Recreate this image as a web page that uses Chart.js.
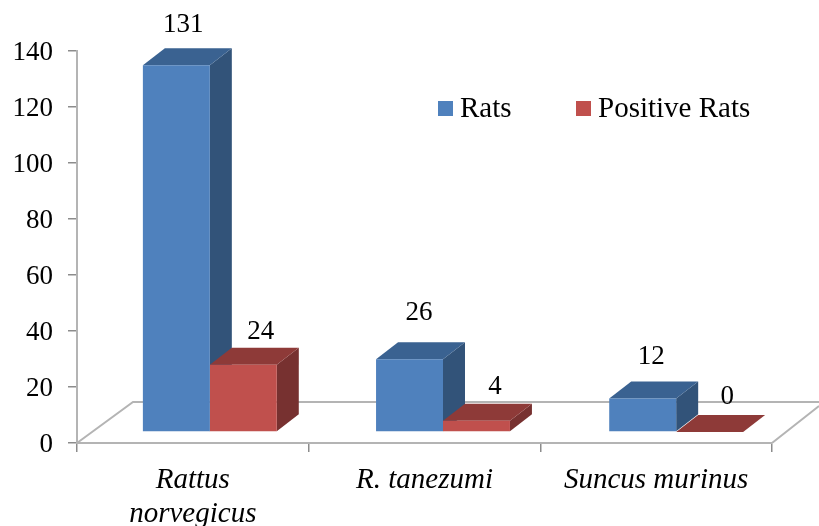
<!DOCTYPE html>
<html>
<head>
<meta charset="utf-8">
<style>
  html, body { margin: 0; padding: 0; background: #fff; }
  canvas { display: block; }
</style>
<script src="https://cdn.jsdelivr.net/npm/chart.js@4"></script>
</head>
<body>
<canvas id="ratsChart" width="819" height="526"></canvas>
<script>
const categories = [["Rattus", "norvegicus"], "R. tanezumi", "Suncus murinus"];
const seriesNames = ["Rats", "Positive Rats"];
const ratsValues = [131, 26, 12];
const positiveRatsValues = [24, 4, 0];

const fontFamily = "'Liberation Serif', 'Times New Roman', serif";
const frontColors = ["#4F81BD", "#C0504D"];
const topColors = ["#3A6291", "#8E3A38"];
const sideColors = ["#325379", "#773130"];
const axisColor = "#B4B4B4";

// shift of the front faces from the axis plane, and depth of the fake 3d
const shiftX = [17, 18.5, 20], shiftY = -11;
const depthX = 22, depthY = -17;
// where each value label sits relative to its bar top
const labelOffsetX = [[7, 9.5, 8.5], [17.5, 18.5, 17.5]];
const labelOffsetY = [[-40, -46, -41], [-33, -34, -35]];

function poly(ctx, color, pts) {
  ctx.fillStyle = color;
  ctx.beginPath();
  ctx.moveTo(pts[0][0], pts[0][1]);
  for (let p of pts.slice(1)) ctx.lineTo(p[0], p[1]);
  ctx.closePath();
  ctx.fill();
}

const bars3d = {
  id: "bars3d",
  afterDatasetsUpdate(chart) {
    chart.data.datasets.forEach((ds, i) => {
      chart.getDatasetMeta(i).data.forEach((bar, j) => {
        bar.x += shiftX[j];
      });
    });
  },
  beforeDatasetsDraw(chart) {
    // floor of the 3d box
    const { ctx, chartArea: a } = chart;
    ctx.save();
    ctx.strokeStyle = axisColor;
    ctx.lineWidth = 2;
    ctx.beginPath();
    ctx.moveTo(a.left, a.bottom);
    ctx.lineTo(a.left + 56, a.bottom - 41);
    ctx.lineTo(chart.width, a.bottom - 41);
    ctx.moveTo(a.right, a.bottom);
    ctx.lineTo(a.right + 47, a.bottom - 37);
    ctx.stroke();
    ctx.restore();

    // side and top faces, red after blue so it lands on the blue side face
    ctx.save();
    ctx.translate(0, shiftY);
    chart.data.datasets.forEach((ds, i) => {
      for (let bar of chart.getDatasetMeta(i).data) {
        const l = bar.x - bar.width / 2, r = bar.x + bar.width / 2;
        const t = bar.y, b = bar.base;
        poly(ctx, sideColors[i], [[r, t], [r + depthX, t + depthY], [r + depthX, b + depthY], [r, b]]);
        poly(ctx, topColors[i], [[l, t], [l + depthX, t + depthY], [r + depthX, t + depthY], [r, t]]);
      }
    });
    ctx.restore();
  },
  beforeDatasetDraw(chart) {
    chart.ctx.save();
    chart.ctx.translate(0, shiftY);
  },
  afterDatasetDraw(chart) {
    chart.ctx.restore();
  },
  afterDatasetsDraw(chart) {
    const ctx = chart.ctx;
    ctx.save();
    ctx.fillStyle = "#000";
    ctx.textAlign = "center";
    ctx.textBaseline = "middle";
    ctx.font = "27px " + fontFamily;
    chart.data.datasets.forEach((ds, i) => {
      chart.getDatasetMeta(i).data.forEach((bar, j) => {
        ctx.fillText(ds.data[j], bar.x + labelOffsetX[i][j], bar.y + shiftY + labelOffsetY[i][j]);
      });
    });

    // legend
    const swatchX = [438, 576];
    ctx.textAlign = "left";
    ctx.textBaseline = "alphabetic";
    ctx.font = "29px " + fontFamily;
    seriesNames.forEach((name, i) => {
      ctx.fillStyle = frontColors[i];
      ctx.fillRect(swatchX[i], 101, 15, 15);
      ctx.fillStyle = "#000";
      ctx.fillText(name, swatchX[i] + 22, 117);
    });
    ctx.restore();
  }
};

new Chart(document.getElementById("ratsChart"), {
  type: "bar",
  data: {
    labels: categories,
    datasets: [
      { label: seriesNames[0], data: ratsValues, backgroundColor: frontColors[0] },
      { label: seriesNames[1], data: positiveRatsValues, backgroundColor: frontColors[1] }
    ]
  },
  options: {
    responsive: false,
    animation: false,
    devicePixelRatio: 1,
    layout: { padding: { top: 51, right: 47, left: 0, bottom: 0 } },
    datasets: { bar: { categoryPercentage: 0.578, barPercentage: 1 } },
    plugins: { legend: { display: false }, tooltip: { enabled: false } },
    scales: {
      x: {
        afterFit(scale) { scale.height = 83; },
        grid: { drawOnChartArea: false, color: "#8C8C8C", tickLength: 9, lineWidth: 1.5 },
        border: { color: axisColor, width: 2 },
        ticks: {
          color: "#000",
          padding: 11,
          maxRotation: 0,
          autoSkip: false,
          font: { family: fontFamily, size: 29, style: "italic", lineHeight: 1.18 }
        }
      },
      y: {
        min: 0,
        max: 140,
        afterFit(scale) { scale.width = 77; },
        grid: { drawOnChartArea: false, color: "#8C8C8C", tickLength: 9, lineWidth: 1.5 },
        border: { color: axisColor, width: 2 },
        ticks: {
          stepSize: 20,
          color: "#000",
          padding: 15,
          labelOffset: 2,
          font: { family: fontFamily, size: 27 }
        }
      }
    }
  },
  plugins: [bars3d]
});
</script>
</body>
</html>
